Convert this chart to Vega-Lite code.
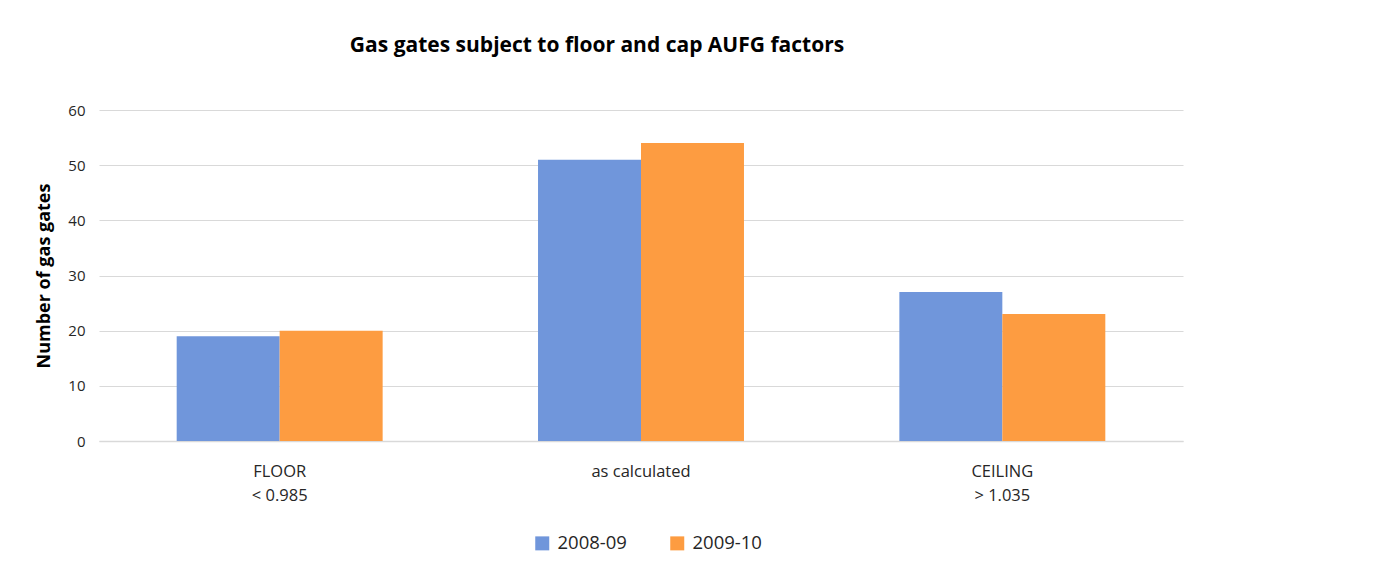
{
  "$schema": "https://vega.github.io/schema/vega-lite/v6.json",
  "autosize": {"type": "none"},
  "width": 1084,
  "height": 331,
  "padding": {"left": 99, "top": 110, "right": 192, "bottom": 133},
  "background": "white",
  "title": {
    "text": "Gas gates subject to floor and cap AUFG factors",
    "font": "Open Sans",
    "fontSize": 21,
    "fontWeight": "bold",
    "color": "#000000",
    "anchor": "middle",
    "dx": -44,
    "offset": 47
  },
  "data": {
    "values": [
      {"category": "FLOOR|< 0.985", "year": "2008-09", "count": 19},
      {"category": "FLOOR|< 0.985", "year": "2009-10", "count": 20},
      {"category": "as calculated", "year": "2008-09", "count": 51},
      {"category": "as calculated", "year": "2009-10", "count": 54},
      {"category": "CEILING|> 1.035", "year": "2008-09", "count": 27},
      {"category": "CEILING|> 1.035", "year": "2009-10", "count": 23}
    ]
  },
  "mark": {"type": "bar"},
  "encoding": {
    "x": {
      "field": "category",
      "type": "nominal",
      "sort": null,
      "scale": {"paddingInner": 0.43, "paddingOuter": 0.215},
      "axis": {
        "title": null,
        "labelAngle": 0,
        "labelExpr": "split(datum.label, '|')",
        "labelFont": "Open Sans",
        "labelFontSize": 16.5,
        "labelColor": "#262626",
        "labelLineHeight": 24,
        "labelPadding": 22,
        "ticks": false,
        "domainColor": "#d9d9d9",
        "domainWidth": 1.5
      }
    },
    "xOffset": {"field": "year", "type": "nominal"},
    "y": {
      "field": "count",
      "type": "quantitative",
      "scale": {"domain": [0, 60]},
      "axis": {
        "title": "Number of gas gates",
        "titleFont": "Open Sans",
        "titleFontSize": 18,
        "titleFontWeight": "bold",
        "titleColor": "#000000",
        "titlePadding": 14,
        "values": [0, 10, 20, 30, 40, 50, 60],
        "labelFont": "Open Sans",
        "labelFontSize": 15,
        "labelColor": "#262626",
        "labelPadding": 14,
        "ticks": false,
        "domain": false,
        "gridColor": "#d9d9d9",
        "gridWidth": 1
      }
    },
    "color": {
      "field": "year",
      "type": "nominal",
      "scale": {"domain": ["2008-09", "2009-10"], "range": ["#7096db", "#fd9c41"]},
      "legend": {
        "title": null,
        "orient": "none",
        "legendX": 434,
        "legendY": 424,
        "direction": "horizontal",
        "symbolType": "square",
        "symbolSize": 196,
        "symbolStrokeWidth": 0,
        "symbolOpacity": 1,
        "labelFont": "Open Sans",
        "labelFontSize": 18.5,
        "labelColor": "#262626",
        "labelOffset": 6,
        "columnPadding": 41
      }
    }
  },
  "config": {
    "view": {"stroke": null}
  }
}
